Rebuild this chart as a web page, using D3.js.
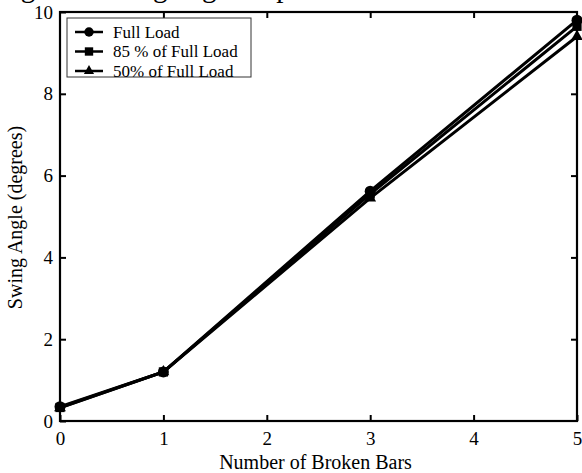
<!DOCTYPE html>
<html>
<head>
<meta charset="utf-8">
<script src="https://cdn.jsdelivr.net/npm/d3@7"></script>
<style>
  html, body { margin: 0; padding: 0; background: #fff; }
  svg { display: block; }
  text { font-family: "Liberation Serif", "Times New Roman", serif; fill: #000; }
</style>
</head>
<body>
<svg id="chart" width="582" height="473"></svg>
<script>
// Swing angle against number of broken rotor bars, three load levels
const brokenBars = [0, 1, 3, 5];
const fullLoad   = [0.35, 1.2, 5.62, 9.8];
const load85     = [0.33, 1.2, 5.55, 9.65];
const load50     = [0.32, 1.2, 5.45, 9.4];
const seriesNames = ["Full Load", "85 % of Full Load", "50% of Full Load"];
const seriesMarkers = ["circle", "square", "triangle"];
const xTicks = [0, 1, 2, 3, 4, 5];
const yTicks = [0, 2, 4, 6, 8, 10];

const series = [fullLoad, load85, load50].map((vals, i) => ({
  name: seriesNames[i],
  marker: seriesMarkers[i],
  points: brokenBars.map((b, j) => ({ x: b, y: vals[j] }))
}));

const svg = d3.select("#chart");
const plot = { left: 60, right: 577, top: 12, bottom: 421 };

const x = d3.scaleLinear().domain([0, 5]).range([plot.left, plot.right]);
const y = d3.scaleLinear().domain([0, 10]).range([plot.bottom, plot.top]);

// caption running above the figure
const cap = svg.append("text")
  .attr("y", -3)
  .style("font-size", "29px")
  .text("Fig. 10. Swing angle of phase current versus broken bars");
const offset = cap.node().getSubStringLength(0, "Fig. 10. Swin".length);
cap.attr("x", 153 - offset);

// axes with inward ticks on all four sides
const tickLen = 6;
const axisStyle = g => {
  g.select(".domain").remove();
  g.selectAll(".tick line").attr("stroke", "#000").attr("stroke-width", 2);
  g.selectAll(".tick text").style("font-size", "19px").style("font-family", "Liberation Serif, serif");
};

svg.append("g")
  .attr("transform", `translate(0,${plot.bottom})`)
  .call(d3.axisBottom(x).tickValues(xTicks).tickFormat(d3.format("d")).tickSizeInner(-tickLen).tickSizeOuter(0).tickPadding(11))
  .call(axisStyle);

svg.append("g")
  .attr("transform", `translate(0,${plot.top})`)
  .call(d3.axisTop(x).tickValues(xTicks.slice(1, -1)).tickFormat("").tickSizeInner(-tickLen).tickSizeOuter(0))
  .call(axisStyle);

svg.append("g")
  .attr("transform", `translate(${plot.left},0)`)
  .call(d3.axisLeft(y).tickValues(yTicks).tickFormat(d3.format("d")).tickSizeInner(-tickLen).tickSizeOuter(0).tickPadding(7))
  .call(axisStyle);

svg.append("g")
  .attr("transform", `translate(${plot.right},0)`)
  .call(d3.axisRight(y).tickValues(yTicks.slice(1, -1)).tickFormat("").tickSizeInner(-tickLen).tickSizeOuter(0))
  .call(axisStyle);

// plot frame
svg.append("rect")
  .attr("x", plot.left).attr("y", plot.top)
  .attr("width", plot.right - plot.left).attr("height", plot.bottom - plot.top)
  .attr("fill", "none").attr("stroke", "#000").attr("stroke-width", 2.2);

// axis titles
svg.append("text")
  .attr("x", (plot.left + plot.right) / 2 - 3).attr("y", 469)
  .attr("text-anchor", "middle")
  .style("font-size", "20px")
  .text("Number of Broken Bars");

svg.append("text")
  .attr("transform", `translate(22,${(plot.top + plot.bottom) / 2 + 1}) rotate(-90)`)
  .attr("text-anchor", "middle")
  .style("font-size", "20px")
  .text("Swing Angle (degrees)");

// marker shapes
const symbolType = { circle: d3.symbolCircle, square: d3.symbolSquare, triangle: d3.symbolTriangle };
const symbolSize = { circle: 95, square: 85, triangle: 60 };

const line = d3.line().x(d => x(d.x)).y(d => y(d.y));

const seriesG = svg.append("g");
series.slice().reverse().forEach(s => {
  seriesG.append("path")
    .datum(s.points)
    .attr("d", line)
    .attr("fill", "none")
    .attr("stroke", "#000")
    .attr("stroke-width", 3);
  seriesG.selectAll(null)
    .data(s.points)
    .join("path")
    .attr("transform", d => `translate(${x(d.x)},${y(d.y)})`)
    .attr("d", d3.symbol().type(symbolType[s.marker]).size(symbolSize[s.marker]))
    .attr("fill", "#000");
});

// legend
const legend = svg.append("g");
legend.append("rect")
  .attr("x", 67).attr("y", 18).attr("width", 184).attr("height", 59)
  .attr("fill", "#fff").attr("stroke", "#333").attr("stroke-width", 1);

series.forEach((s, i) => {
  const ly = 32 + i * 19.5;
  legend.append("line")
    .attr("x1", 75).attr("x2", 103).attr("y1", ly).attr("y2", ly)
    .attr("stroke", "#000").attr("stroke-width", 2.5);
  legend.append("path")
    .attr("transform", `translate(89,${ly})`)
    .attr("d", d3.symbol().type(symbolType[s.marker]).size(s.marker === "triangle" ? 45 : 70))
    .attr("fill", "#000");
  legend.append("text")
    .attr("x", 113).attr("y", ly + 5.5)
    .style("font-size", "17px")
    .text(s.name);
});
</script>
</body>
</html>
